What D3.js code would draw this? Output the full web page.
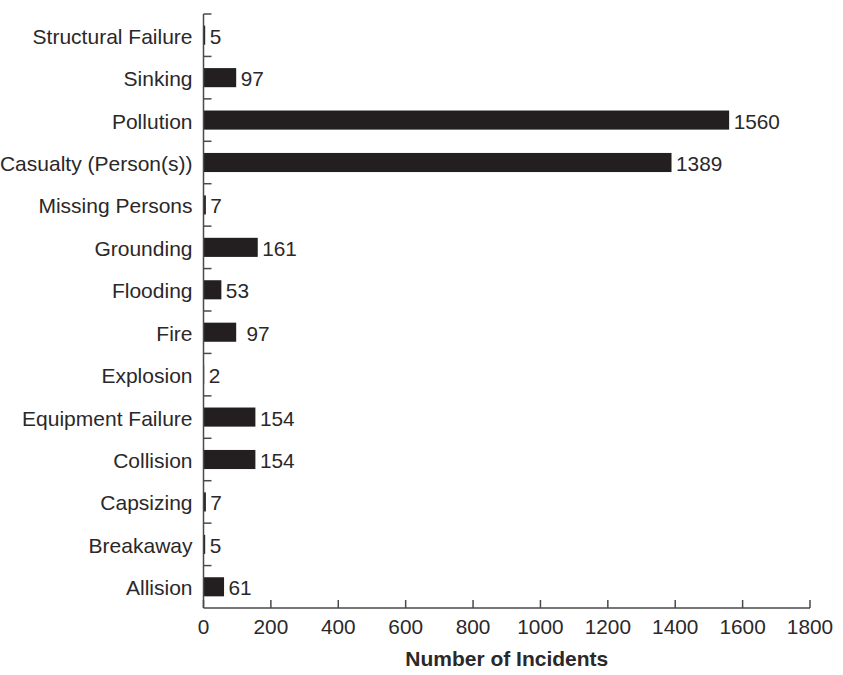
<!DOCTYPE html>
<html><head><meta charset="utf-8">
<script src="https://cdn.jsdelivr.net/npm/d3@7"></script>
<style>body{margin:0;background:#fff}text{font-family:"Liberation Sans",Arial,Helvetica,sans-serif;fill:#2b2829}</style>
</head><body><svg id="c" width="843" height="675"></svg>
<script>
const categories = ["Structural Failure","Sinking","Pollution","Casualty (Person(s))","Missing Persons","Grounding","Flooding","Fire","Explosion","Equipment Failure","Collision","Capsizing","Breakaway","Allision"];
const values = [5,97,1560,1389,7,161,53,97,2,154,154,7,5,61];
const valueLabels = ["5","97","1560","1389","7","161","53"," 97","2","154","154","7","5","61"];
const xTicks = [0,200,400,600,800,1000,1200,1400,1600,1800];
const xTitle = "Number of Incidents";

(function(){
const svg = d3.select("#c");
const mL = 203.5, mR = 810, mT = 14, mB = 608;
const x = d3.scaleLinear().domain([0,1800]).range([mL,mR]);
const y = d3.scaleBand().domain(categories).range([mT,mB]).paddingInner(0.55).paddingOuter(0.275);
const yb = d3.scaleBand().domain(categories).range([mT,mB]);
const axisColor = "#4a4a4a";
const fs = 20.8;

svg.selectAll("rect.bar").data(categories).join("rect")
  .attr("class","bar")
  .attr("x", x(0)).attr("y", d => y(d))
  .attr("width", (d,i) => x(values[i]) - x(0))
  .attr("height", y.bandwidth())
  .attr("fill", "#231f20");

svg.selectAll("text.val").data(categories).join("text")
  .attr("class","val")
  .attr("x", (d,i) => x(values[i]) + 4.5)
  .attr("y", d => yb(d) + yb.bandwidth()/2 + 8.5)
  .attr("font-size", fs).style("white-space","pre")
  .text((d,i) => valueLabels[i]);

svg.append("line").attr("x1", mL).attr("x2", mL).attr("y1", mT).attr("y2", mB)
  .attr("stroke", axisColor).attr("stroke-width", 1.5);
const bounds = categories.map(c => yb(c));
svg.selectAll("line.yt").data(bounds).join("line")
  .attr("class","yt")
  .attr("x1", mL).attr("x2", mL + 8).attr("y1", d => d).attr("y2", d => d)
  .attr("stroke", axisColor).attr("stroke-width", 1.5);
svg.selectAll("text.cat").data(categories).join("text")
  .attr("class","cat")
  .attr("x", mL - 11).attr("y", d => yb(d) + yb.bandwidth()/2 + 8.5)
  .attr("text-anchor", "end").attr("font-size", 21).text(d => d);

svg.append("line").attr("x1", mL).attr("x2", mR).attr("y1", mB).attr("y2", mB)
  .attr("stroke", axisColor).attr("stroke-width", 1.5);
svg.selectAll("line.xt").data(xTicks).join("line")
  .attr("class","xt")
  .attr("x1", d => x(d)).attr("x2", d => x(d)).attr("y1", mB).attr("y2", mB - 8)
  .attr("stroke", axisColor).attr("stroke-width", 1.5);
svg.selectAll("text.xl").data(xTicks).join("text")
  .attr("class","xl")
  .attr("x", d => x(d)).attr("y", mB + 25.5)
  .attr("text-anchor", "middle").attr("font-size", fs).text(d => d);

svg.append("text").attr("x", (mL+mR)/2).attr("y", 665.5)
  .attr("text-anchor", "middle").attr("font-size", 21).attr("font-weight", "bold").text(xTitle);
})();
</script></body></html>
